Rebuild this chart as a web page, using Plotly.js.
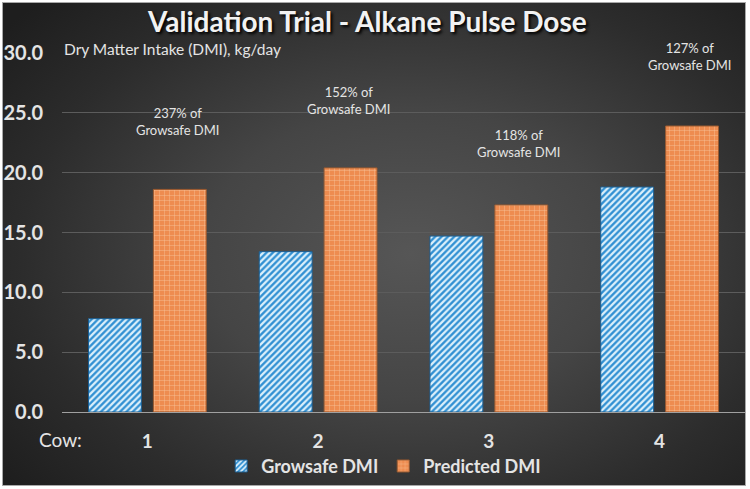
<!DOCTYPE html>
<html>
<head>
<meta charset="utf-8">
<script src="https://cdn.plot.ly/plotly-3.0.1.min.js"></script>
<style>
html,body{margin:0;padding:0;background:#ffffff;width:750px;height:489px;overflow:hidden;}
#frame{position:absolute;left:2px;top:2px;width:742px;height:482px;border:1px solid #a8a8a8;
background:radial-gradient(ellipse 70% 75% at 55% 52%, #565656 0%, #454545 40%, #2c2c2c 75%, #1e1e1e 100%);}
#chart{position:absolute;left:0;top:0;width:750px;height:489px;}
</style>
</head>
<body>
<div id="frame"></div>
<div id="chart"></div>
<script>
const categories = ["1", "2", "3", "4"];
const growsafe = [7.8, 13.4, 14.7, 18.8];
const predicted = [18.6, 20.4, 17.3, 23.9];
const seriesNames = ["Growsafe DMI", "Predicted DMI"];
const pctLabels = ["237% of<br>Growsafe DMI", "152% of<br>Growsafe DMI", "118% of<br>Growsafe DMI", "127% of<br>Growsafe DMI"];
const pctY = [24.25, 26.0, 22.45, 29.7];
const yTicks = [0, 5, 10, 15, 20, 25, 30];

const FONT = "Lato, 'Open Sans', sans-serif";
const txt = "#e4e4e4";

const traces = [
  {
    type: "bar", name: "<b>" + seriesNames[0] + "</b>", x: categories, y: growsafe,
    marker: {
      color: "#3b98d6",
      line: {color: "#1d5f92", width: 1},
      pattern: {shape: "/", bgcolor: "#2f8fd2", fgcolor: "#dcf0fb", size: 4.5, solidity: 0.5, fillmode: "replace"}
    },
    hoverinfo: "skip"
  },
  {
    type: "bar", name: "<b>" + seriesNames[1] + "</b>", x: categories, y: predicted,
    marker: {
      color: "#ec8a4e",
      line: {color: "#9a5a30", width: 1},
      pattern: {shape: "+", bgcolor: "#ee8c50", fgcolor: "#f8c49c", size: 5, solidity: 0.16, fillmode: "replace"}
    },
    hoverinfo: "skip"
  }
];

const annotations = categories.map((c, i) => ({
  x: i, xref: "x", xshift: 30, y: pctY[i], yref: "y",
  text: pctLabels[i], showarrow: false,
  font: {family: FONT, size: 13, color: txt}, align: "center",
  xanchor: "center", yanchor: "middle"
}));
annotations.push({
  x: 0, xref: "paper", y: 30, yref: "y", yshift: 4, text: "Dry Matter Intake (DMI), kg/day",
  showarrow: false, xanchor: "left", yanchor: "middle",
  font: {family: FONT, size: 15.5, color: txt}
});
annotations.push({
  x: -0.002, xref: "paper", y: -28 / 360, yref: "paper", text: "Cow:",
  showarrow: false, xanchor: "center", yanchor: "middle",
  font: {family: FONT, size: 19, color: txt}
});

const layout = {
  width: 750, height: 489,
  paper_bgcolor: "rgba(0,0,0,0)", plot_bgcolor: "rgba(0,0,0,0)",
  margin: {l: 62, r: 5, t: 53, b: 76},
  title: {
    text: "<b>Validation Trial - Alkane Pulse Dose</b>",
    x: 0.447, xref: "paper", xanchor: "center", y: 0.955, yanchor: "middle",
    font: {family: FONT, size: 28, color: "#f2f2f2", shadow: "2px 2px 3px #000"}
  },
  barmode: "group", bargap: 0.24, bargroupgap: 0.185,
  showlegend: true,
  legend: {
    orientation: "h", x: 0.471, xanchor: "center", y: -0.148, yanchor: "middle",
    font: {family: FONT, size: 18, color: txt},
    bgcolor: "rgba(0,0,0,0)", itemwidth: 30, tracegroupgap: 0
  },
  xaxis: {
    type: "category", range: [-0.5, 3.5], showgrid: false, zeroline: false, showline: false,
    ticks: "", ticklabelstandoff: 16,
    tickfont: {family: FONT, size: 19, color: txt, weight: 700}
  },
  yaxis: {
    range: [0, 30], tickvals: yTicks, tickformat: ".1f",
    showgrid: true, gridcolor: "#5c5c5c", gridwidth: 1,
    zeroline: true, zerolinecolor: "#a0a0a0", zerolinewidth: 1,
    showline: false, ticks: "", ticklabelstandoff: 18,
    tickfont: {family: FONT, size: 20, color: txt, weight: 700}
  },
  annotations: annotations
};

Plotly.newPlot("chart", traces, layout, {displayModeBar: false, staticPlot: true});
</script>
</body>
</html>
